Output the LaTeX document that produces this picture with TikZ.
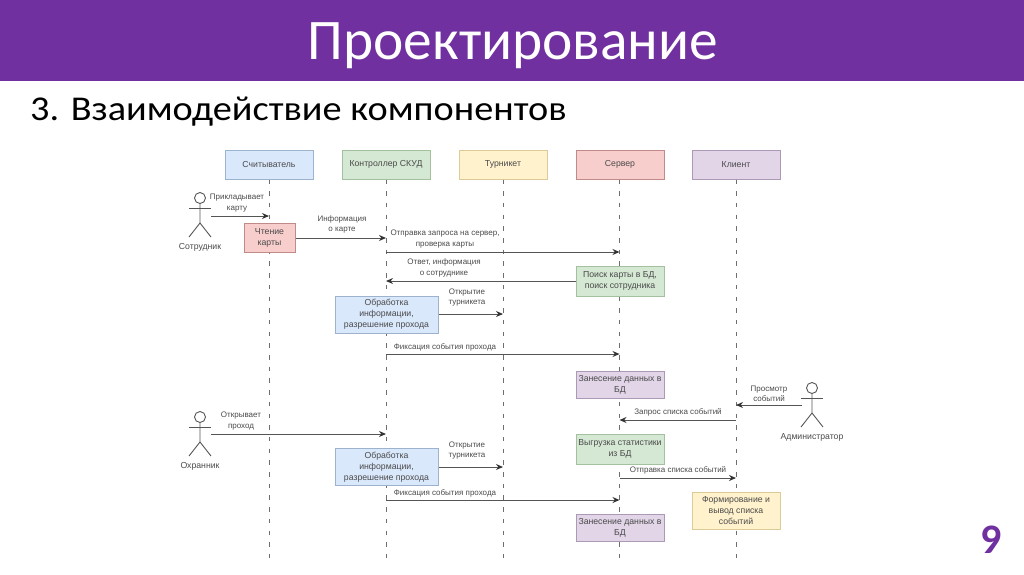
\documentclass[tikz,border=0pt]{standalone}
\usepackage{fontspec}
\setmainfont{Liberation Sans}
\newfontfamily\slidefont{Carlito}
\newfontfamily\subtitlefont[FakeStretch=1.1]{Carlito}
\usetikzlibrary{arrows.meta}

\definecolor{slidepurple}{HTML}{7030A0}
\definecolor{inktext}{HTML}{4A4A4A}
\definecolor{inkline}{HTML}{555555}
\definecolor{bluefill}{HTML}{DAE8FC}
\definecolor{blueedge}{HTML}{9DB2CC}
\definecolor{greenfill}{HTML}{D5E8D4}
\definecolor{greenedge}{HTML}{A3C09F}
\definecolor{redfill}{HTML}{F8CECC}
\definecolor{rededge}{HTML}{C08A88}
\definecolor{violetfill}{HTML}{E1D5E7}
\definecolor{violetedge}{HTML}{AB99B6}
\definecolor{yellowfill}{HTML}{FFF2CC}
\definecolor{yellowedge}{HTML}{DCCB94}

\tikzset{
    box/.style n args={3}{draw=#2, fill=#1, line width=1pt, minimum width=#3, align=center, inner sep=0pt,
        text=inktext, font=\fontsize{8.7}{11}\selectfont},
    bluebox/.style={box={bluefill}{blueedge}{103pt}, minimum height=37pt},
    greenbox/.style={box={greenfill}{greenedge}{88pt}, minimum height=30pt},
    redbox/.style={box={redfill}{rededge}{51pt}, minimum height=29pt},
    violetbox/.style={box={violetfill}{violetedge}{88pt}, minimum height=27pt},
    yellowbox/.style={box={yellowfill}{yellowedge}{88pt}, minimum height=37pt},
    headbox/.style={minimum width=88pt, minimum height=29pt},
    lifeline/.style={draw=inkline!85!white, line width=1pt, dash pattern=on 4.5pt off 7.2pt},
    msg/.style={draw=inkline, line width=1pt, -{Stealth[length=7pt,width=6pt,black!80]}},
    lbl/.style={text=inktext, align=center, inner sep=0pt, font=\fontsize{8}{10.5}\selectfont},
    actorname/.style={text=inktext, inner sep=0pt, font=\fontsize{8.7}{10}\selectfont},
    pics/actor/.style={code={
        \draw[inkline, line width=0.9pt] (0,-10) circle (5.5);
        \draw[inkline, line width=0.9pt] (-11,0) -- (11,0);
        \draw[inkline, line width=0.9pt] (0,-4.5) -- (0,15) -- (-11,29);
        \draw[inkline, line width=0.9pt] (0,15) -- (11,29);
    }}
}

\begin{document}
\begin{tikzpicture}[x=1pt, y=-1pt]
    \useasboundingbox (0,0) rectangle (1024,574);

    % slide header
    \fill[slidepurple] (0,0) rectangle (1024,81);
    \node (title) at (513,59) [anchor=base, inner sep=0pt, text=white, font=\slidefont\fontsize{57.4}{60}\selectfont] {Проектирование};
    \node (subtitle) at (30,120) [anchor=base west, inner sep=0pt, text=black, font=\subtitlefont\fontsize{34.8}{40}\selectfont] {3. Взаимодействие компонентов};
    \node (pagenum) at (991,553) [anchor=base, inner sep=0pt, text=slidepurple, font=\slidefont\bfseries\fontsize{42}{44}\selectfont] {9};

    % head boxes
    \node[bluebox, headbox] (reader) at (269,164.5) {Считыватель};
    \node[greenbox, headbox] (ctrl) at (386,164.5) {Контроллер СКУД};
    \node[yellowbox, headbox] (gate) at (503,164.5) {Турникет};
    \node[redbox, headbox] (server) at (620,164.5) {Сервер};
    \node[violetbox, headbox] (client) at (736,164.5) {Клиент};

    % lifelines
    \coordinate (readerEnd) at (269,558);
    \coordinate (ctrlEnd) at (386,558);
    \coordinate (gateEnd) at (503,558);
    \coordinate (serverEnd) at (619.5,558);
    \coordinate (clientEnd) at (736,558);
    \draw[lifeline] (reader.south) -- (readerEnd);
    \draw[lifeline] (ctrl.south) -- (ctrlEnd);
    \draw[lifeline] (gate.south) -- (gateEnd);
    \draw[lifeline] (server.south -| serverEnd) -- (serverEnd);
    \draw[lifeline] (client.south) -- (clientEnd);

    % actors
    \pic at (200,208) {actor};
    \node[actorname] (worker) at (200,247) {Сотрудник};
    \pic at (200,427) {actor};
    \node[actorname] (guard) at (200,466) {Охранник};
    \pic at (812,398) {actor};
    \node[actorname] (admin) at (812,437) {Администратор};

    % activity boxes
    \node[redbox] (read) at (269.5,237.5) {Чтение\\карты};
    \node[greenbox] (search) at (620,281) {Поиск карты в БД,\\поиск сотрудника};
    \node[bluebox] (proc) at (386.5,314.5) {Обработка\\информации,\\разрешение прохода};
    \node[violetbox] (store) at (620,384.5) {Занесение данных в\\БД};
    \node[greenbox] (stats) at (620,449) {Выгрузка статистики\\из БД};
    \node[bluebox] (procB) at (386.5,467) {Обработка\\информации,\\разрешение прохода};
    \node[yellowbox] (form) at (736,510.5) {Формирование и\\вывод списка\\событий};
    \node[violetbox] (storeB) at (620,527.5) {Занесение данных в\\БД};

    % ends of the messages
    \coordinate (workerOut) at (211,216);
    \coordinate (readerIn) at (269,216);
    \coordinate (ctrlIn) at (386,238);
    \coordinate (reqFrom) at (386,252);
    \coordinate (reqTo) at (619.5,252);
    \coordinate (ansTo) at (386,281);
    \coordinate (gateIn) at (503,314);
    \coordinate (fixFrom) at (386,354);
    \coordinate (fixTo) at (619.5,354);
    \coordinate (adminOut) at (802,405);
    \coordinate (clientIn) at (736,405);
    \coordinate (askFrom) at (736,420);
    \coordinate (askTo) at (619.5,420);
    \coordinate (guardOut) at (211,434);
    \coordinate (ctrlInB) at (386,434);
    \coordinate (gateInB) at (503,467);
    \coordinate (sendFrom) at (619.5,478);
    \coordinate (sendTo) at (736,478);
    \coordinate (fixFromB) at (386,500);
    \coordinate (fixToB) at (619.5,500);

    % messages
    \draw[msg] (workerOut) -- (readerIn);
    \draw[msg] (read.east |- ctrlIn) -- (ctrlIn);
    \draw[msg] (reqFrom) -- (reqTo);
    \draw[msg] (search.west) -- (ansTo);
    \draw[msg] (proc.east |- gateIn) -- (gateIn);
    \draw[msg] (fixFrom) -- (fixTo);
    \draw[msg] (adminOut) -- (clientIn);
    \draw[msg] (askFrom) -- (askTo);
    \draw[msg] (guardOut) -- (ctrlInB);
    \draw[msg] (procB.east |- gateInB) -- (gateInB);
    \draw[msg] (sendFrom) -- (sendTo);
    \draw[msg] (fixFromB) -- (fixToB);

    % message labels
    \node[lbl] (lblCard) at (237,203) {Прикладывает\\карту};
    \node[lbl] (lblInfo) at (342,224.5) {Информация\\о карте};
    \node[lbl] (lblReq) at (445,239) {Отправка запроса на сервер,\\проверка карты};
    \node[lbl] (lblAns) at (444,268) {Ответ, информация\\о сотруднике};
    \node[lbl] (lblOpen) at (467,297.5) {Открытие\\турникета};
    \node[lbl] (lblFix) at (445,347.5) {Фиксация события прохода};
    \node[lbl] (lblView) at (769,394) {Просмотр\\событий};
    \node[lbl] (lblAsk) at (678,412.5) {Запрос списка событий};
    \node[lbl] (lblPass) at (241,421) {Открывает\\проход};
    \node[lbl] (lblOpenB) at (467,450.5) {Открытие\\турникета};
    \node[lbl] (lblSend) at (678,470.5) {Отправка списка событий};
    \node[lbl] (lblFixB) at (445,493.5) {Фиксация события прохода};
\end{tikzpicture}
\end{document}
